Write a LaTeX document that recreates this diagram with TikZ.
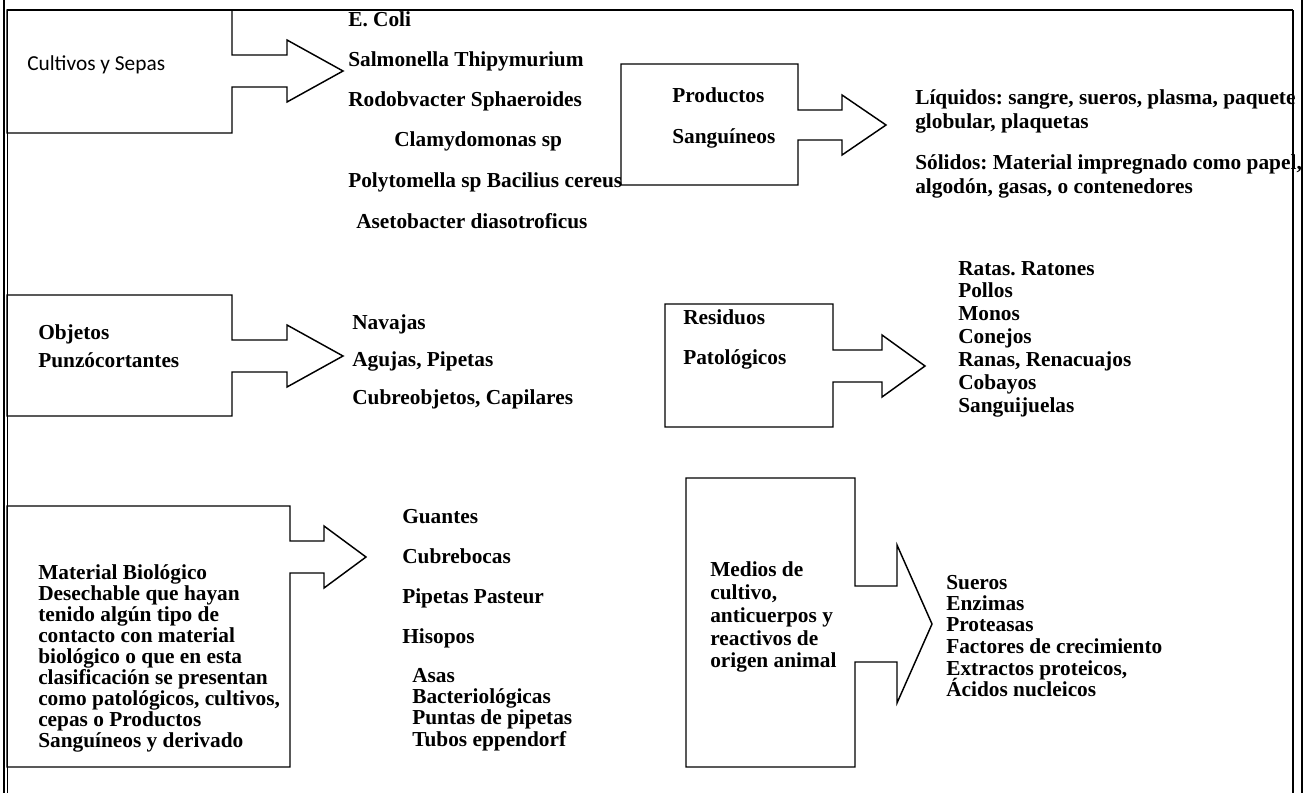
\documentclass[tikz,border=0pt]{standalone}
\usepackage{fontspec}
\setmainfont{Liberation Serif}
\newfontfamily\calib{Carlito}
\frenchspacing
\begin{document}
\begin{tikzpicture}[x=0.75pt,y=-0.75pt,
  shp/.style={draw=black, line width=1.1pt, line join=miter},
  itm/.style={anchor=base west, inner sep=0pt, font=\fontsize{16}{19}\selectfont\bfseries},
  thinframe/.style={draw=black, line width=1pt},
  thickframe/.style={draw=black, line width=2.2pt}]
\useasboundingbox (0,0) rectangle (1305,793);
% frame
\draw[thickframe] (4,0) -- (4,793);
\draw[thinframe] (7.5,10) -- (7.5,793);
\draw[thinframe] (7,10) -- (1293,10);
\draw[thinframe] (1293,10) -- (1293,793);
\draw[thickframe] (1302,0) -- (1302,793);

% Cultivos y Sepas
\draw[shp] (7,10) -- (232,10) -- (232,55) -- (287,55) -- (287,40) -- (343,71) -- (287,102) -- (287,87) -- (232,87) -- (232,133) -- (7,133) -- cycle;
\node[anchor=west, inner sep=0pt, font=\calib\fontsize{16}{19}\selectfont] (cul) at (27,65) {Cultivos y Sepas};
\node[itm] (c1) at (348,26) {E. Coli};
\node[itm] (c2) at (348,66) {Salmonella Thipymurium};
\node[itm] (c3) at (348,106) {Rodobvacter Sphaeroides};
\node[itm] (c4) at (394,146) {Clamydomonas sp};
\node[itm] (c5) at (348,187) {Polytomella sp Bacilius cereus};
\node[itm] (c6) at (356,228) {Asetobacter diasotroficus};

% Productos Sanguineos
\draw[shp] (621,64) -- (798,64) -- (798,110) -- (842,110) -- (842,95) -- (886,125) -- (842,155) -- (842,140) -- (798,140) -- (798,185) -- (621,185) -- cycle;
\node[itm] (p1) at (672,102) {Productos};
\node[itm] (p2) at (672,143) {Sanguíneos};
\node[itm] (l1) at (915,104) {Líquidos: sangre, sueros, plasma, paquete};
\node[itm] (l2) at (915,128) {globular, plaquetas};
\node[itm] (l3) at (915,169) {Sólidos: Material impregnado como papel,};
\node[itm] (l4) at (915,193) {algodón, gasas, o contenedores};

% Objetos punzocortantes
\draw[shp] (7,295) -- (232,295) -- (232,340) -- (287,340) -- (287,325) -- (343,356) -- (287,387) -- (287,372) -- (232,372) -- (232,416) -- (7,416) -- cycle;
\node[itm] (o1) at (38,339) {Objetos};
\node[itm] (o2) at (38,367) {Punzócortantes};
\node[itm] (n1) at (352,329) {Navajas};
\node[itm] (n2) at (352,366) {Agujas, Pipetas};
\node[itm] (n3) at (352,404) {Cubreobjetos, Capilares};

% Residuos patologicos
\draw[shp] (665,304) -- (833,304) -- (833,350) -- (882,350) -- (882,335) -- (925,366) -- (882,397) -- (882,382) -- (833,382) -- (833,427) -- (665,427) -- cycle;
\node[itm] (r1) at (683,324) {Residuos};
\node[itm] (r2) at (683,364) {Patológicos};
\node[itm] (a1) at (958,275) {Ratas. Ratones};
\node[itm] (a2) at (958,297) {Pollos};
\node[itm] (a3) at (958,320) {Monos};
\node[itm] (a4) at (958,343) {Conejos};
\node[itm] (a5) at (958,366) {Ranas, Renacuajos};
\node[itm] (a6) at (958,389) {Cobayos};
\node[itm] (a7) at (958,412) {Sanguijuelas};

% Material biologico
\draw[shp] (7,506) -- (290,506) -- (290,541) -- (324,541) -- (324,526) -- (366,557) -- (324,588) -- (324,573) -- (290,573) -- (290,767) -- (7,767) -- cycle;
\node[itm] (m1) at (38,579) {Material Biológico};
\node[itm] (m2) at (38,600) {Desechable que hayan};
\node[itm] (m3) at (38,621) {tenido algún tipo de};
\node[itm] (m4) at (38,642) {contacto con material};
\node[itm] (m5) at (38,663) {biológico o que en esta};
\node[itm] (m6) at (38,684) {clasificación se presentan};
\node[itm] (m7) at (38,705) {como patológicos, cultivos,};
\node[itm] (m8) at (38,726) {cepas o Productos};
\node[itm] (m9) at (38,747) {Sanguíneos y derivado};
\node[itm] (g1) at (402,523) {Guantes};
\node[itm] (g2) at (402,563) {Cubrebocas};
\node[itm] (g3) at (402,603) {Pipetas Pasteur};
\node[itm] (g4) at (402,643) {Hisopos};
\node[itm] (g5) at (412,682) {Asas};
\node[itm] (g6) at (412,703) {Bacteriológicas};
\node[itm] (g7) at (412,724) {Puntas de pipetas};
\node[itm] (g8) at (412,746) {Tubos eppendorf};

% Medios de cultivo
\draw[shp] (686,478) -- (855,478) -- (855,586) -- (897,586) -- (897,545) -- (932,624) -- (897,703) -- (897,662) -- (855,662) -- (855,767) -- (686,767) -- cycle;
\node[itm] (d1) at (710,576) {Medios de};
\node[itm] (d2) at (710,599) {cultivo,};
\node[itm] (d3) at (710,622) {anticuerpos y};
\node[itm] (d4) at (710,645) {reactivos de};
\node[itm] (d5) at (710,667) {origen animal};
\node[itm] (s1) at (946,589) {Sueros};
\node[itm] (s2) at (946,610) {Enzimas};
\node[itm] (s3) at (946,631) {Proteasas};
\node[itm] (s4) at (946,653) {Factores de crecimiento};
\node[itm] (s5) at (946,675) {Extractos proteicos,};
\node[itm] (s6) at (946,696) {Ácidos nucleicos};
\end{tikzpicture}
\end{document}
